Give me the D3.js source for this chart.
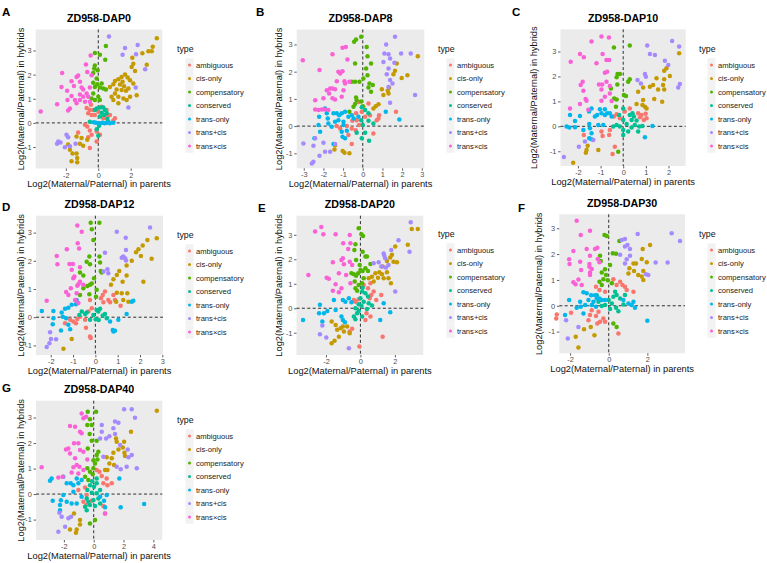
<!DOCTYPE html>
<html lang="en">
<head>
<meta charset="UTF-8">
<title>ZD958 allele-specific expression</title>
<script src="https://cdn.jsdelivr.net/npm/d3@7"></script>
<style>
  body { margin: 0; background: #fff; }
  svg { font-family: "Liberation Sans", Arial, sans-serif; }
  .tick text { fill: #4D4D4D; font-size: 7.4px; }
  .tick line { stroke: #333; stroke-width: 0.8; }
</style>
</head>
<body>
<div id="chart"></div>
<script>
// category names and ggplot default hue colours
const types = ["ambiguous", "cis-only", "compensatory", "conserved", "trans-only", "trans+cis", "trans\u00d7cis"];
const typeColors = ["#F8766D", "#C49A00", "#53B400", "#00C094", "#00B6EB", "#A58AFF", "#FB61D7"];

const panelLetters = ["A", "B", "C", "D", "E", "F", "G"];
const panelTitles = ["ZD958-DAP0", "ZD958-DAP8", "ZD958-DAP10", "ZD958-DAP12", "ZD958-DAP20", "ZD958-DAP30", "ZD958-DAP40"];

// tick labels per panel
const xTicks = [[-2, 0, 2], [-3, -2, -1, 0, 1, 2, 3], [-2, -1, 0, 1, 2], [-2, -1, 0, 1, 2, 3], [-2, 0, 2], [-2, 0, 2], [-2, 0, 2, 4]];
const yTicks = [-1, 0, 1, 2, 3];

// axis extents
const xDomains = [[-3.86, 3.95], [-3.36, 3.13], [-2.77, 2.76], [-2.66, 3.03], [-3.71, 3.65], [-2.56, 3.95], [-3.87, 4.6]];
const yDomains = [[-1.89, 3.87], [-1.55, 3.55], [-1.59, 3.89], [-1.34, 3.6], [-1.91, 3.78], [-1.84, 3.54], [-1.8, 3.66]];

// points [x (parents), y (hybrids)] grouped by type, in the order of `types`
const dap0 = [
  [[-0.62,0.4],[-0.52,0.53],[-0.31,0.53],[-0.41,0.33],[-0.21,0.33],[0,0.47],[0.21,0.67],[0.52,0.53],[0.72,0.33],[1.03,0.19],[0.93,0.1],[-0.82,-0.08],[-0.68,-0.15],[-0.52,-0.32],[-0.62,-0.59],[-0.1,-0.36],[0.1,-0.49],[-0.41,-0.49],[-1.24,-0.4],[-0.52,-1.04],[-0.1,-0.77],[0.31,0.19],[0.56,0.26],[-0.72,0.62],[-0.45,0.75]],
  [[3.61,3.51],[3.36,3.16],[3.3,2.97],[3.09,2.97],[2.72,2.89],[2.1,2.7],[2.16,2.45],[2.06,2.32],[2.27,2.15],[2.99,2.41],[1.65,2.01],[1.44,1.9],[1.24,1.81],[1.81,1.88],[1.96,1.77],[1.03,1.74],[0.93,1.6],[1.34,1.59],[1.59,1.52],[1.86,1.42],[2.16,1.63],[0.72,1.49],[1.13,1.38],[1.44,1.36],[1.71,1.33],[1.03,1.22],[0.82,1.08],[1.24,1.08],[1.55,1.01],[1.96,1.08],[0.93,0.95],[1.75,0.95],[1.24,0.81],[2.37,1.15],[1.5,1.7],
   [-1.86,-0.9],[-1.75,-1.11],[-1.59,-1.27],[-1.34,-1.27],[-1.3,-1.45],[-1.3,-1.63],[-1.65,-1.59],[-1.13,-0.86],[-0.93,-0.95],[-0.68,-0.7],[-1.03,-0.63],[-1.34,-0.56]],
  [[-0.21,2.9],[0.1,2.82],[0.47,3.19],[0.43,2.62],[-0.21,2.38],[-0.25,2.25],[-0.04,2.18],[-0.31,2.07],[-0.1,1.84],[-0.31,1.66],[-0.06,1.6],[-0.21,1.49],[0.1,1.47],[0.21,1.63],[0.31,1.42],[-0.31,1.22],[0,1.08],[-0.21,0.95],[0.1,0.95],[0.47,1.38],[-0.41,1.01]],
  [[-0.1,0.6],[0.1,0.64],[0.31,0.64],[0.41,0.53],[0.21,0.42],[0.52,0.4],[0.35,0.33],[0.56,0.16],[0.1,0.26],[-0.21,0.53],[-0.52,0.05],[-0.1,-0.26],[0,-0.53],[0.05,-0.12],[0.62,0.05]],
  [[-0.14,0.01],[0.1,-0.01],[0.27,0.01],[0.41,-0.01],[0.56,0.01],[0.72,-0.01],[-0.27,0.03],[0.93,0.01]],
  [[0.66,3.58],[1.65,3.1],[2.43,3.23],[2.33,2.84],[1.5,2.82],[2.89,2.22],[2.31,1.47],[1.86,0.64],[-2.47,-0.77],[-2.33,-0.81],[-2.54,-0.86],[-1.96,-0.49],[-1.86,-0.6],[-1.75,-0.97],[-1.4,-0.86],[-2.06,-1.01]],
  [[-3.55,0.47],[-2.54,0.77],[-2.23,2.07],[-1.92,1.33],[-1.9,0.95],[-1.65,1.73],[-1.5,1.53],[-1.34,1.9],[-1.24,1.96],[-1.13,1.7],[-1.44,0.95],[-1.03,1.47],[-0.93,1.38],[-0.76,2.42],[-0.68,2.11],[-0.93,1.08],[-1.13,0.95],[-1.34,0.81],[-1.75,0.6],[-1.86,0.51],[-0.82,0.88],[-0.72,1.22],[-0.62,1.08],[-0.52,1.47],[-0.41,1.97],[-0.47,2.79],[-0.52,0.88],[-1.65,1.11],[-1.13,1.18],[-2.27,1.49]]
];

const dap8 = [
  [[-0.22,0.89],[0.03,0.71],[-0.05,0.53],[0.29,0.83],[-0.34,0.47],[0.12,0.34],[0.37,0.4],[0.83,0.4],[0.71,0.22],[0.8,0.28],[-0.31,0.22],[-0.53,0.2],[-0.81,0],[-1.32,0],[-1.15,-0.09],[-0.56,-0.09],[-0.36,-0.15],[-0.19,0.04],[0.54,-0.27],[-0.56,-0.66],[1.69,0.53],[-0.73,-0.33]],
  [[2.8,2.57],[2.27,1.87],[1.98,1.77],[1.73,2.3],[1.64,2.03],[1.56,1.91],[1.34,1.41],[1.27,1.3],[0.97,1.35],[1.05,1.14],[1.31,1.2],[0.8,0.8],[0.66,0.73],[0.54,0.65],[-1.41,-0.7],[-1.44,-0.86],[-1.02,-0.91],[-0.93,-0.98],[-0.68,-1.0]],
  [[-0.44,3.1],[-0.34,3.18],[-0.08,3.28],[0.2,2.91],[0.24,2.57],[-0.39,2.3],[0.42,2.3],[0.17,2.12],[0.24,1.87],[-0.56,1.63],[-0.39,1.63],[-0.17,1.63],[0.03,1.75],[0.34,1.57],[0.51,1.51],[0.42,1.26],[-0.34,1.05],[-0.31,0.95],[-0.39,0.81],[-0.47,0.71],[-0.68,0.53],[0,0.73],[0.29,1.42],[-0.08,0.9]],
  [[-0.05,0.69],[0.12,0.59],[0.29,0.47],[-0.08,0.22],[0.29,0.2],[0,0.04],[-0.31,-0.24],[0.12,-0.24],[-0.05,-0.45],[0.32,-0.54],[0.54,0.1]],
  [[-1.92,0.65],[-1.83,0.47],[-2.22,0.34],[-1.78,0.28],[-1.49,0.47],[-1.32,0.47],[-1.2,0.4],[-1.07,0.47],[-0.9,0.53],[-0.73,0.34],[-0.56,0.4],[-0.46,0.28],[-1.24,0.22],[-1.41,0.16],[-0.98,0.16],[-1.75,0.1],[-2.25,0.04],[-1.58,-0.02],[-0.98,0.04],[-2.17,-0.21],[-1.07,-0.21],[-0.81,-0.17],[-1.03,-0.39],[-0.9,-0.45],[-2.46,-0.45],[-1.49,-0.66],[-0.22,0.34],[1.86,0.24],[1.17,0.53]],
  [[1.64,3.28],[1.19,3.0],[1.1,2.67],[1.31,2.64],[1.39,2.48],[1.05,2.36],[1.61,2.33],[1.95,2.67],[2.44,2.67],[1.31,2.12],[1.22,1.91],[1.39,1.69],[1.51,1.57],[1.31,1.44],[2.66,1.14],[1.39,0.86],[-3.02,-0.64],[-2.51,-0.72],[-2.42,-0.45],[-2.0,-0.61],[-1.92,-0.94],[-2.2,-1.09],[-2.51,-1.31],[-2.59,-1.37],[-1.66,-0.94],[-1.41,-0.66]],
  [[-3.05,2.42],[-2.2,2.06],[-1.54,2.64],[-1.03,2.88],[-0.86,2.91],[-0.78,2.45],[-1.24,2.0],[-1.15,1.93],[-1.03,2.02],[-1.32,1.65],[-0.93,1.65],[-0.68,1.63],[-0.9,1.57],[-1.83,1.32],[-1.66,1.38],[-1.54,1.38],[-1.41,1.35],[-1.71,1.2],[-2.0,1.02],[-1.54,1.02],[-1.41,0.98],[-2.42,0.95],[-1.07,1.08],[-2.42,0.61],[-2.25,0.59],[-2.08,0.61],[-1.92,0.61],[-1.75,0.59],[-0.98,1.32]]
];

const dap10 = [
  [[0.07,0.59],[0.29,0.72],[-0.29,0.48],[-0.41,0.39],[-0.15,0.32],[0.66,0.52],[0.81,0.45],[0.91,0.25],[1.03,0.32],[0.99,0.5],[0.74,0.36],[-0.96,-0.21],[-0.91,-0.39],[-0.62,-0.35],[-0.59,-0.15],[-0.37,-0.82],[-0.47,-1.11],[-1.74,-0.35]],
  [[2.47,2.93],[1.91,2.33],[1.81,2.23],[2.06,2.02],[1.81,1.89],[1.76,1.66],[1.81,1.48],[1.47,1.93],[1.32,1.66],[1.54,1.48],[1.18,1.59],[0.88,1.56],[0.66,1.39],[1.37,1.1],[1.72,0.99],[0.88,1.06],[0.85,0.86],[0.96,0.79],[1.03,0.72],[0.59,0.9],[-1.57,-0.78],[-1.62,-0.95],[-1.65,-1.06],[-1.1,-0.95],[-2.21,-1.46]],
  [[-0.41,3.16],[0.29,3.24],[-0.25,2.1],[-0.15,2.1],[0.29,1.89],[0.22,1.79],[-0.29,1.97],[-0.54,1.52],[-0.26,1.68],[-0.4,1.12],[-0.29,1.08],[-0.32,0.79],[0.03,1.26],[0.12,1.22],[-0.22,-1.02]],
  [[0,0.72],[-0.18,0.45],[0.29,0.45],[0.41,0.52],[0.47,0.39],[0.37,0.25],[0,0.25],[0.15,0.09],[-0.29,0.05],[-0.44,-0.01],[-0.15,-0.01],[0.51,0.05],[0.71,-0.01],[0.37,-0.05],[0,-0.15],[0.22,-0.21],[0,-0.35],[0.85,0.01],[0.66,-0.21],[0.59,0.23]],
  [[-2.35,0.45],[-1.91,0.41],[-1.51,0.59],[-1.4,0.72],[-1.03,0.68],[-0.81,0.68],[-0.71,0.52],[-0.59,0.52],[-0.96,0.52],[-0.81,0.45],[-1.25,0.39],[-1.15,0.45],[-2.13,0.21],[-2.5,-0.01],[-2.38,-0.05],[-2.13,-0.04],[-1.5,0.09],[-1.1,0.05],[-0.88,0.05],[-1.47,-0.08],[-1.4,-0.28],[-1.76,-0.15],[-1.5,-0.48],[-1.4,-0.52],[0.96,-0.44],[1.29,0.01],[-0.51,0.39]],
  [[1.06,3.24],[2.16,3.42],[2.47,3.2],[1.18,2.9],[1.4,2.86],[1.84,2.63],[1.99,2.46],[0.96,2.1],[1.0,1.99],[0.63,1.86],[0.78,1.72],[2.5,1.7],[2.43,1.56],[-2.62,-1.23],[-1.96,-0.82],[-1.69,-0.61],[-1.32,-0.55]],
  [[-2.32,2.59],[-1.91,2.9],[-1.74,2.77],[-1.4,3.4],[-1.18,2.53],[-0.96,3.6],[-0.63,3.56],[-0.91,2.9],[-0.74,2.66],[-0.62,2.66],[-0.81,2.15],[-0.71,2.19],[-1.79,1.79],[-1.88,1.66],[-1.76,1.43],[-1.66,1.1],[-1.62,1.03],[-1.91,0.9],[-2.35,0.72],[-1.54,0.66],[-1.07,1.68],[-0.93,1.68],[-0.96,1.48],[-0.74,1.79],[-0.59,1.62],[-0.81,1.19],[-0.59,1.32],[-0.96,1.03],[-0.51,1.02]]
];

const dap12 = [
  [[-0.24,0.61],[0.25,0.67],[0.33,0.79],[0.43,0.91],[0.58,0.61],[0.66,0.53],[0.36,0.53],[0.81,0.79],[0.88,0.61],[-0.16,0.32],[-0.31,0.2],[-0.69,0.02],[-0.81,-0.06],[-0.99,-0.15],[-1.13,-0.09],[-0.87,-0.21],[-1.36,-0.21],[-0.46,-0.09],[-0.42,-0.37],[-0.24,-0.68],[-0.21,-0.74],[1.13,0.41]],
  [[2.75,2.8],[2.33,2.74],[1.93,2.41],[1.82,2.3],[2.12,2.54],[2.52,2.07],[2.04,2.17],[1.63,2.0],[1.4,1.83],[1.07,1.64],[0.96,1.5],[1.4,1.48],[2.15,1.26],[1.22,1.26],[0.81,1.35],[0.7,1.15],[0.96,0.87],[1.18,0.85],[1.43,0.85],[1.25,0.61],[0.93,0.55],[1.48,0.55],[-1.06,-0.77],[-1.43,-1.12]],
  [[-0.21,3.35],[0.18,3.35],[-0.16,3.12],[-0.09,2.74],[-0.39,1.97],[-0.27,2.15],[-0.24,1.88],[0.18,2.15],[0.21,1.94],[0.24,1.64],[0.28,1.59],[-0.69,1.59],[-0.54,1.48],[-0.36,1.11],[-0.24,1.15],[-0.16,1.2],[-0.06,1.38],[-0.54,1.03],[0.06,0.97],[-0.69,0.79],[-0.27,0.81],[0.03,0.73]],
  [[-0.39,0.17],[-0.46,0.11],[0.06,0.26],[0.13,0.2],[0.21,0.3],[-0.09,0.08],[0.01,-0.07],[0.33,0.06],[0.51,-0.04],[0.43,0.11],[-0.72,0.08],[-0.61,0.2],[-0.24,-0.09],[0.15,-0.1]],
  [[-2.4,0.22],[-1.88,0.22],[-1.51,0.17],[-1.36,0.3],[-1.21,0.34],[-1.06,0.44],[-0.87,0.46],[-0.84,0.61],[-1.46,0.02],[-1.31,-0.04],[-1.88,-0.04],[-1.91,-0.25],[-1.21,-0.27],[-1.13,-0.43],[-1.54,-0.47],[0.66,-0.15],[0.78,-0.45],[0.81,-0.51],[0.88,-0.48],[1.03,-0.09],[1.4,0.11],[1.63,0.55],[1.7,0.58]],
  [[2.45,3.18],[0.96,3.03],[1.36,2.82],[1.37,2.38],[0.43,2.29],[1.18,2.11],[1.25,2.15],[1.33,2.09],[1.37,2.01],[0.54,1.7],[0.58,1.56],[0.36,1.62],[-2.03,-0.53],[-2.18,-1.06],[-2.06,-0.92],[-1.99,-0.77],[-1.76,-0.78]],
  [[-0.81,3.25],[-0.61,3.03],[-0.79,2.62],[-0.73,2.44],[-1.28,2.41],[-1.73,2.17],[-1.7,1.88],[-1.16,1.89],[-1.01,1.89],[-0.69,1.77],[-1.06,1.68],[-0.94,1.44],[-0.99,1.38],[-0.76,1.17],[-0.81,1.12],[-0.69,1.26],[-1.31,0.89],[-1.21,0.79],[-0.84,0.85],[-0.91,0.61],[-0.76,0.5],[-2.18,0.58],[-1.1,1.03],[-0.54,1.15]]
];

const dap20 = [
  [[0.19,0.95],[0.58,1.02],[0.44,0.82],[0.77,0.68],[0.63,0.54],[0.54,0.41],[0.92,0.34],[1.21,0.54],[-0.38,0.34],[-0.29,0.27],[-0.1,0.37],[0.35,-0.2],[0.58,-0.34],[0.29,-0.48],[-0.48,-0.84],[-0.63,-0.95],[-0.06,-1.56],[1.29,-1.16]],
  [[2.98,3.24],[3.33,3.24],[2.75,2.59],[2.02,2.52],[1.83,2.18],[1.92,1.9],[2.12,1.88],[1.73,2.07],[1.54,1.93],[1.29,1.7],[1.1,1.47],[1.25,1.39],[1.54,1.47],[0.87,1.43],[0.67,1.29],[1.02,1.25],[1.35,1.22],[1.63,1.22],[1.77,1.02],[0.77,1.09],[0.48,1.22],[-1.67,-0.54],[-1.44,-0.68],[-1.35,-0.88],[-1.15,-0.82],[-1.02,-0.75],[-0.96,-0.95],[-1.25,-1.16],[-1.5,-1.33],[-1.67,-1.43],[-0.77,-0.75],[-0.62,-1.02]],
  [[-0.1,3.27],[0.06,3.02],[0.15,2.95],[-0.29,2.61],[-0.35,2.38],[0.13,2.31],[0.38,2.11],[-0.25,1.97],[-0.04,1.77],[0,1.56],[0.13,1.52],[-0.52,1.43],[-0.38,1.39],[-0.25,1.33],[-0.13,1.43],[0.29,1.63],[0.44,1.52],[0.58,1.81],[0.19,1.22],[-0.33,1.09],[-0.1,0.95],[0.1,1.02],[-0.29,0.82],[-0.19,0.71],[0.29,2.11]],
  [[0.1,0.68],[0.29,0.61],[0.44,0.48],[0,0.41],[0.19,0.27],[0.48,0.2],[-0.1,0.16],[-0.29,0],[-0.1,-0.11],[-0.19,-0.2],[-0.38,-0.34],[-0.29,-0.45],[0.1,-0.34],[0.38,-0.03],[0.67,0.11],[0.06,0.1],[0.13,0.84]],
  [[-3.33,-0.48],[-2.35,0.14],[-2.4,-0.2],[-2.12,-0.2],[-1.92,-0.11],[-1.54,0.34],[-1.44,-0.07],[-1.1,-0.34],[-1.02,-0.48],[-0.9,-0.57],[-1.02,0.34],[-0.87,0.27],[-0.67,0.41],[-0.52,0.24],[-2.21,-0.54],[1.15,-0.48],[1.73,-0.16],[1.35,0.2]],
  [[2.92,3.51],[2.85,2.31],[2.21,2.78],[1.79,2.38],[1.35,2.24],[1.38,2.15],[1.44,2.04],[1.06,1.88],[1.21,1.7],[1.48,1.66],[1.63,1.77],[0.77,1.84],[2.02,0.68],[-2.35,-1.06],[-2.21,-0.71],[-1.98,-1.2],[-0.67,-1.63]],
  [[-3.02,1.36],[-2.63,3.13],[-2.27,3.32],[-2.15,3.02],[-1.44,3.02],[-1.0,2.65],[-0.62,2.99],[-0.58,2.65],[-0.71,2.42],[-1.02,2.04],[-1.1,1.97],[-1.6,1.88],[-0.96,1.8],[-0.62,1.9],[-0.48,1.77],[-1.96,1.25],[-1.83,1.2],[-1.25,1.43],[-0.83,1.36],[-1.44,0.98],[-1.1,0.82],[-1.6,0.71],[-1.25,0.65],[-0.58,1.02]]
];

const dap30 = [
  [[0.59,0.93],[0.24,1.03],[0.41,0.8],[0.71,0.8],[0.84,0.74],[0.93,0.61],[1.28,0.54],[-0.66,0.74],[-0.48,0.61],[-0.19,0.54],[-0.88,-0.17],[-0.53,-0.23],[-0.97,-0.36],[-0.66,-0.4],[-0.28,-0.49],[-0.45,-0.62],[-1.05,-0.56],[-0.19,-0.62],[-0.59,-0.69],[-2.69,-0.34],[-2.72,-0.49],[-1.95,-0.27],[0.5,-1.07]],
  [[2.14,2.35],[1.76,2.2],[1.71,1.81],[1.97,1.68],[1.28,1.64],[1.41,1.64],[1.07,1.45],[1.02,1.25],[1.31,1.35],[1.79,1.35],[1.71,1.13],[1.53,1.19],[1.79,1.0],[-1.28,-0.91],[-0.93,-0.82],[-0.74,-1.14],[-1.71,-1.2],[-1.57,-1.62]],
  [[-0.22,2.74],[-0.1,2.7],[0.55,2.51],[0.21,2.03],[0.38,2.01],[-0.45,1.94],[-0.41,1.73],[0.07,1.58],[-0.19,1.41],[-0.36,1.29],[-0.14,1.19],[-0.28,1.03],[-0.48,0.93],[-0.36,0.8],[-0.05,0.99],[0.16,0.87],[0.24,-0.69],[0.41,-0.82]],
  [[0.33,0.54],[0.41,0.42],[0.24,0.35],[0.59,0.28],[0,0.22],[0.16,0.09],[-0.19,0.03],[-0.36,-0.01],[0.38,-0.08],[0.76,0.05],[0.07,-0.13],[-0.53,0.16],[0.84,0.42],[0.5,-0.21],[-0.62,0.41]],
  [[-2.05,0.22],[-2.26,-0.36],[-1.48,0.16],[-1.45,-0.04],[-1.22,0.03],[-1.31,0.52],[-1.14,0.48],[-0.91,0.41],[-0.71,0.41],[-0.62,0.28],[-1.05,0.22],[-0.79,0.16],[-0.88,0.03],[-0.48,0.28],[-0.36,0.22],[-0.19,0.22],[-0.66,-0.04],[0.76,0.22],[1.02,0.09],[1.19,0.03],[1.36,-0.08],[1.28,0.16],[2.0,-0.58],[-1.31,-0.3],[-1.66,-0.08]],
  [[0.67,2.55],[0.84,2.58],[1.5,2.78],[3.26,2.81],[3.69,2.51],[0.84,2.29],[0.97,2.35],[1.1,2.2],[0.59,1.97],[0.93,1.8],[1.1,1.94],[0.84,1.64],[2.43,1.67],[3.05,1.67],[1.93,1.22],[2.05,1.19],[-2.21,-0.56],[-2.12,-1.27],[-1.57,-0.82]],
  [[-1.66,3.29],[-1.45,2.74],[-0.97,2.9],[-1.83,2.12],[-1.14,2.2],[-0.71,2.2],[-0.59,2.25],[-2.05,1.8],[-2.03,1.62],[-0.97,1.94],[-1.0,1.62],[-1.0,1.51],[-0.57,1.81],[-0.48,1.68],[-0.88,1.42],[-0.97,1.29],[-1.48,1.7],[-0.97,1.19],[-1.43,1.38],[-1.83,0.91],[-1.72,0.83],[-1.57,1.02],[-1.4,0.8]]
];

const dap40 = [
  [[0.2,0.94],[0.38,0.88],[0.54,0.71],[0.87,0.61],[1.21,0.42],[0.92,0.35],[0.65,0.42],[-0.58,0.26],[-1.03,0.16],[-0.47,-0.04],[-0.69,-0.3],[-0.51,-0.43],[-0.13,-0.26],[0.65,-0.47],[0.76,-0.76]],
  [[4.23,3.27],[2.5,2.44],[1.5,2.18],[1.54,2.05],[2.04,2.05],[1.95,1.83],[1.66,1.75],[2.1,1.49],[2.06,1.62],[1.32,1.62],[1.21,1.4],[0.87,1.44],[1.05,1.2],[1.36,1.14],[0.76,0.94],[0.92,0.94],[-1.32,-0.76],[-0.92,-1.02],[-0.92,-1.19],[-1.59,-1.39],[-1.19,-1.52],[-1.14,-1.39]],
  [[-0.4,3.23],[0.16,3.23],[-0.25,2.93],[-0.43,2.71],[-0.13,2.71],[-0.13,2.09],[0.2,2.09],[-0.4,1.79],[0.31,1.66],[0.2,1.53],[-0.02,1.33],[0.25,1.36],[0.09,1.2],[-0.43,1.01],[-0.02,1.01],[-0.25,0.88],[-0.07,0.78],[-0.58,0.68],[-0.36,0.55],[0.09,-1.02],[-0.25,-1.15],[-0.27,2.35]],
  [[-0.25,0.35],[0.2,0.42],[0.02,0.29],[-0.43,0.16],[-0.13,0.05],[0.2,0.03],[0.43,0.16],[-0.47,-0.17],[-0.36,-0.3],[-0.02,-0.24],[0.31,-0.17],[-0.25,-0.43],[-0.58,-0.5],[0.09,-0.47],[0.43,-0.37],[-0.47,-0.63],[0.2,0.61],[-0.1,0.5]],
  [[-2.82,0.61],[-2.93,0.52],[-2.75,-0.26],[-2.04,0.68],[-1.81,0.42],[-1.54,0.42],[-1.36,0.35],[-1.03,0.42],[-1.14,0.61],[-0.81,0.55],[-1.36,0.09],[-2.04,-0.04],[-1.81,-0.3],[-1.48,-0.37],[-1.14,-0.37],[-0.81,-0.1],[-2.26,-0.43],[-2.26,-0.63],[-2.2,-0.24],[0.43,-0.1],[0.69,-0.26],[0.87,-0.04],[0.76,-0.52],[1.72,0.61],[1.81,-0.52],[3.38,-0.39]],
  [[2.55,3.32],[2.04,3.32],[2.77,2.99],[1.43,2.84],[1.66,2.8],[1.32,2.58],[0.54,2.71],[0.54,2.44],[0.43,2.18],[0.83,2.18],[1.05,2.27],[1.43,2.35],[1.77,1.92],[2.28,1.75],[2.55,1.53],[2.33,1.44],[1.54,1.07],[1.81,0.97],[2.21,1.07],[2.89,1.01],[0.65,1.46],[-2.3,-0.73],[-2.15,-0.89],[-1.7,-0.95],[-1.52,-0.89],[-1.92,-1.28],[-2.37,-1.48]],
  [[-3.49,1.05],[-2.37,0.65],[-2.08,0.68],[-1.7,1.79],[-1.86,1.75],[-1.59,2.67],[-1.25,2.64],[-1.32,1.99],[-1.03,1.99],[-0.92,2.44],[-0.81,2.38],[-0.81,3.16],[-0.69,2.97],[-0.51,3.03],[-0.92,1.73],[-0.69,1.66],[-1.59,1.59],[-1.25,1.4],[-1.14,1.14],[-0.96,1.07],[-1.36,1.05],[-0.43,1.36],[-0.69,0.94],[-1.03,0.81],[-1.48,0.85],[0.76,-0.76]]
];

const panelData = [dap0, dap8, dap10, dap12, dap20, dap30, dap40];

// layout: plot-panel boxes in page pixels [left, top, right, bottom]
const boxes = [
  [35.7, 29.5, 162.3, 168.5],
  [296.7, 29.5, 424.3, 168.3],
  [560.5, 29.3, 685.7, 166],
  [36, 215.7, 163, 355],
  [296.5, 215.7, 423.3, 355],
  [559.3, 214.3, 685, 353.3],
  [36, 400.7, 162.3, 540]
];
// distance from panel edge to the centre of the y axis title
const yTitleGap = [15.5, 18, 27, 15.5, 18, 21, 15.5];
const letterPos = [[2, 16], [256, 16], [512, 16], [2, 211], [258, 212], [518, 212], [2, 392]];
const legendPos = [[177, 52], [438, 52], [699, 52], [177, 238], [438, 237], [699, 237], [177, 423]];

const W = 767, H = 563;
const svg = d3.select("#chart").append("svg").attr("width", W).attr("height", H);

panelData.forEach((groups, i) => {
  const [x0, y0, x1, y1] = boxes[i];
  const x = d3.scaleLinear().domain(xDomains[i]).range([x0, x1]);
  const y = d3.scaleLinear().domain(yDomains[i]).range([y1, y0]);
  const g = svg.append("g");

  g.append("rect")
    .attr("x", x0).attr("y", y0)
    .attr("width", x1 - x0).attr("height", y1 - y0)
    .attr("fill", "#EBEBEB");

  // reference lines at 0
  g.append("line")
    .attr("x1", x(0)).attr("x2", x(0)).attr("y1", y0).attr("y2", y1)
    .attr("stroke", "#1a1a1a").attr("stroke-width", 0.9).attr("stroke-dasharray", "3,2.4");
  g.append("line")
    .attr("x1", x0).attr("x2", x1).attr("y1", y(0)).attr("y2", y(0))
    .attr("stroke", "#1a1a1a").attr("stroke-width", 0.9).attr("stroke-dasharray", "3,2.4");

  groups.forEach((pts, t) => {
    g.selectAll(null).data(pts).join("circle")
      .attr("cx", d => x(d[0]))
      .attr("cy", d => y(d[1]))
      .attr("r", 2.25)
      .attr("fill", typeColors[t]);
  });

  // axes (plain hyphen minus like ggplot)
  const fmt = d => String(d);
  const xa = g.append("g").attr("transform", `translate(0,${y1})`)
    .call(d3.axisBottom(x).tickValues(xTicks[i]).tickFormat(fmt).tickSize(2.4).tickPadding(1.5));
  const ya = g.append("g").attr("transform", `translate(${x0},0)`)
    .call(d3.axisLeft(y).tickValues(yTicks).tickFormat(fmt).tickSize(2.4).tickPadding(1.8));
  xa.select(".domain").remove();
  ya.select(".domain").remove();

  const cx = (x0 + x1) / 2, cy = (y0 + y1) / 2;
  g.append("text")
    .attr("x", cx).attr("y", y0 - 7.5)
    .attr("text-anchor", "middle")
    .attr("font-size", 10.7).attr("font-weight", "bold")
    .text(panelTitles[i]);
  g.append("text")
    .attr("x", cx).attr("y", y1 + 18.8)
    .attr("text-anchor", "middle")
    .attr("font-size", 9.3).attr("fill", "#111")
    .text("Log2(Maternal/Paternal) in parents");
  g.append("text")
    .attr("transform", `translate(${x0 - yTitleGap[i] + 3.3},${cy}) rotate(-90)`)
    .attr("text-anchor", "middle")
    .attr("font-size", 9.3).attr("fill", "#111")
    .text("Log2(Maternal/Paternal) in hybrids");

  g.append("text")
    .attr("x", letterPos[i][0]).attr("y", letterPos[i][1])
    .attr("font-size", 11.5).attr("font-weight", "bold")
    .text(panelLetters[i]);

  // legend
  const [lx, ly] = legendPos[i];
  const lg = g.append("g").attr("transform", `translate(${lx},${ly})`);
  lg.append("text").attr("x", 0).attr("y", 0).attr("font-size", 8.8).attr("fill", "#111").text("type");
  types.forEach((name, k) => {
    const ky = 13 + k * 13.5;
    lg.append("rect")
      .attr("x", 8.5).attr("y", ky - 6.75).attr("width", 8).attr("height", 13.5)
      .attr("fill", "#F2F2F2");
    lg.append("circle").attr("cx", 12.5).attr("cy", ky).attr("r", 1.5).attr("fill", typeColors[k]);
    lg.append("text").attr("x", 19).attr("y", ky + 2.6)
      .attr("font-size", 7.6).attr("fill", "#222").text(name);
  });
});
</script>
</body>
</html>
